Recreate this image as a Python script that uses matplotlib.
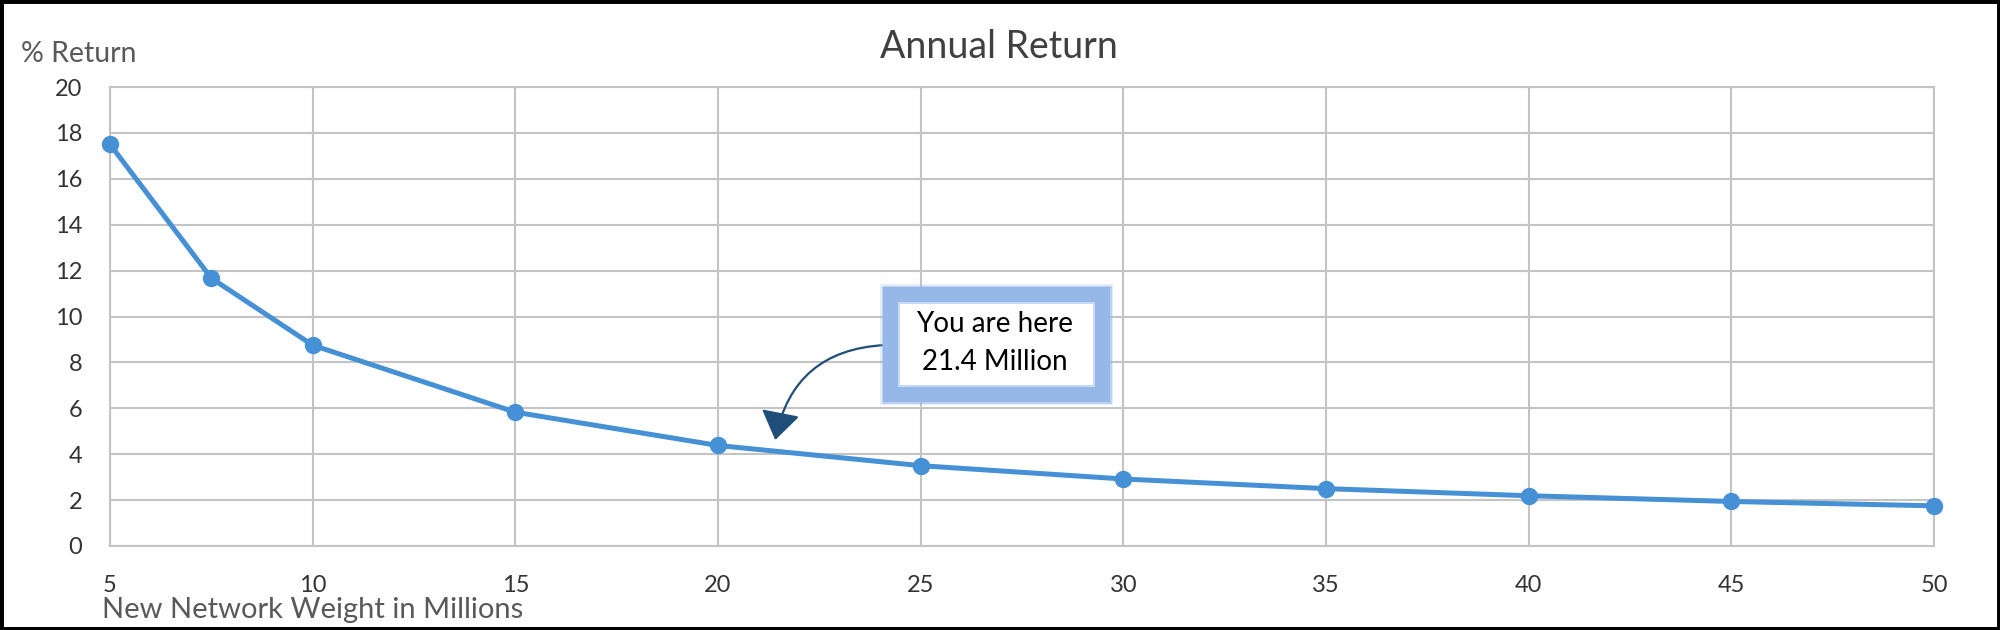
import matplotlib
matplotlib.use('Agg')
from matplotlib import pyplot
from matplotlib.patches import Rectangle

# values
weight = [5, 7.5, 10, 15, 20, 25, 30, 35, 40, 45, 50]
annual_return = [17.5, 11.67, 8.75, 5.83, 4.38, 3.5, 2.92, 2.5, 2.19, 1.94, 1.75]
x_ticks = [5, 10, 15, 20, 25, 30, 35, 40, 45, 50]
y_ticks = [0, 2, 4, 6, 8, 10, 12, 14, 16, 18, 20]
you_are_here = 21.4

pyplot.rcParams['font.family'] = ['Lato', 'DejaVu Sans']

W, H = 2000, 630
fig = pyplot.figure(figsize=(W / 100, H / 100), dpi=100)
ax = fig.add_axes([110 / W, 1 - 546 / H, 1824 / W, 459 / H])

grid = '#c4c4c4'
ax.plot(weight, annual_return, color='#4690d6', lw=3.6, marker='o',
        markersize=11.5, zorder=3, clip_on=False)

ax.set_xlim(5, 50)
ax.set_ylim(0, 20)
ax.set_xticks(x_ticks)
ax.set_yticks(y_ticks)
ax.grid(True, color=grid, lw=1.5)
ax.set_axisbelow(True)
for s in ax.spines.values():
    s.set_color(grid)
    s.set_linewidth(1.5)
ax.tick_params(length=0, labelsize=17, labelcolor='#333333')
ax.tick_params(axis='x', pad=21)
ax.tick_params(axis='y', pad=20)

fig.text(999 / W, 1 - 47 / H, 'Annual Return', ha='center', va='center',
         fontsize=27, color='#404040')
fig.text(21 / W, 1 - 54 / H, '% Return', ha='left', va='center',
         fontsize=20.5, color='#595959')
fig.text(102 / W, 1 - 610 / H, 'New Network Weight in Millions', ha='left',
         va='center', fontsize=21, color='#595959')

# annotation box with soft blue frame
x0, y0, x1, y1 = 883, 287, 1110, 402
for grow, alpha in [(3, 0.25), (1.5, 0.5), (0, 1.0)]:
    fig.patches.append(Rectangle(((x0 - grow) / W, 1 - (y1 + grow) / H),
                                 (x1 - x0 + 2 * grow) / W, (y1 - y0 + 2 * grow) / H,
                                 transform=fig.transFigure, facecolor='#95b8e8',
                                 edgecolor='none', alpha=alpha, zorder=5))
b = 15
for shrink, col in [(0, '#c8daf3'), (2, 'white')]:
    fig.patches.append(Rectangle(((x0 + b + shrink) / W, 1 - (y1 - b - shrink) / H),
                                 (x1 - x0 - 2 * (b + shrink)) / W,
                                 (y1 - y0 - 2 * (b + shrink)) / H,
                                 transform=fig.transFigure, facecolor=col,
                                 edgecolor='none', zorder=6))
fig.text(995 / W, 1 - 343 / H, 'You are here\n%.1f Million' % you_are_here,
         ha='center', va='center', fontsize=20, color='black',
         linespacing=1.6, zorder=7)

ax.annotate('', xy=(you_are_here, 4.5), xytext=(24.17, 8.76),
            arrowprops=dict(arrowstyle='-|>,head_length=0.8,head_width=0.55',
                            connectionstyle='arc3,rad=0.4', color='#1f4e79',
                            facecolor='#2e6fa8', lw=1.6, mutation_scale=22),
            zorder=4)

# outer black frame
fig.patches.append(Rectangle((0, 0), 1, 1, transform=fig.transFigure,
                             fill=False, edgecolor='black', lw=5, zorder=10))

fig.savefig('out.png', dpi=100)
